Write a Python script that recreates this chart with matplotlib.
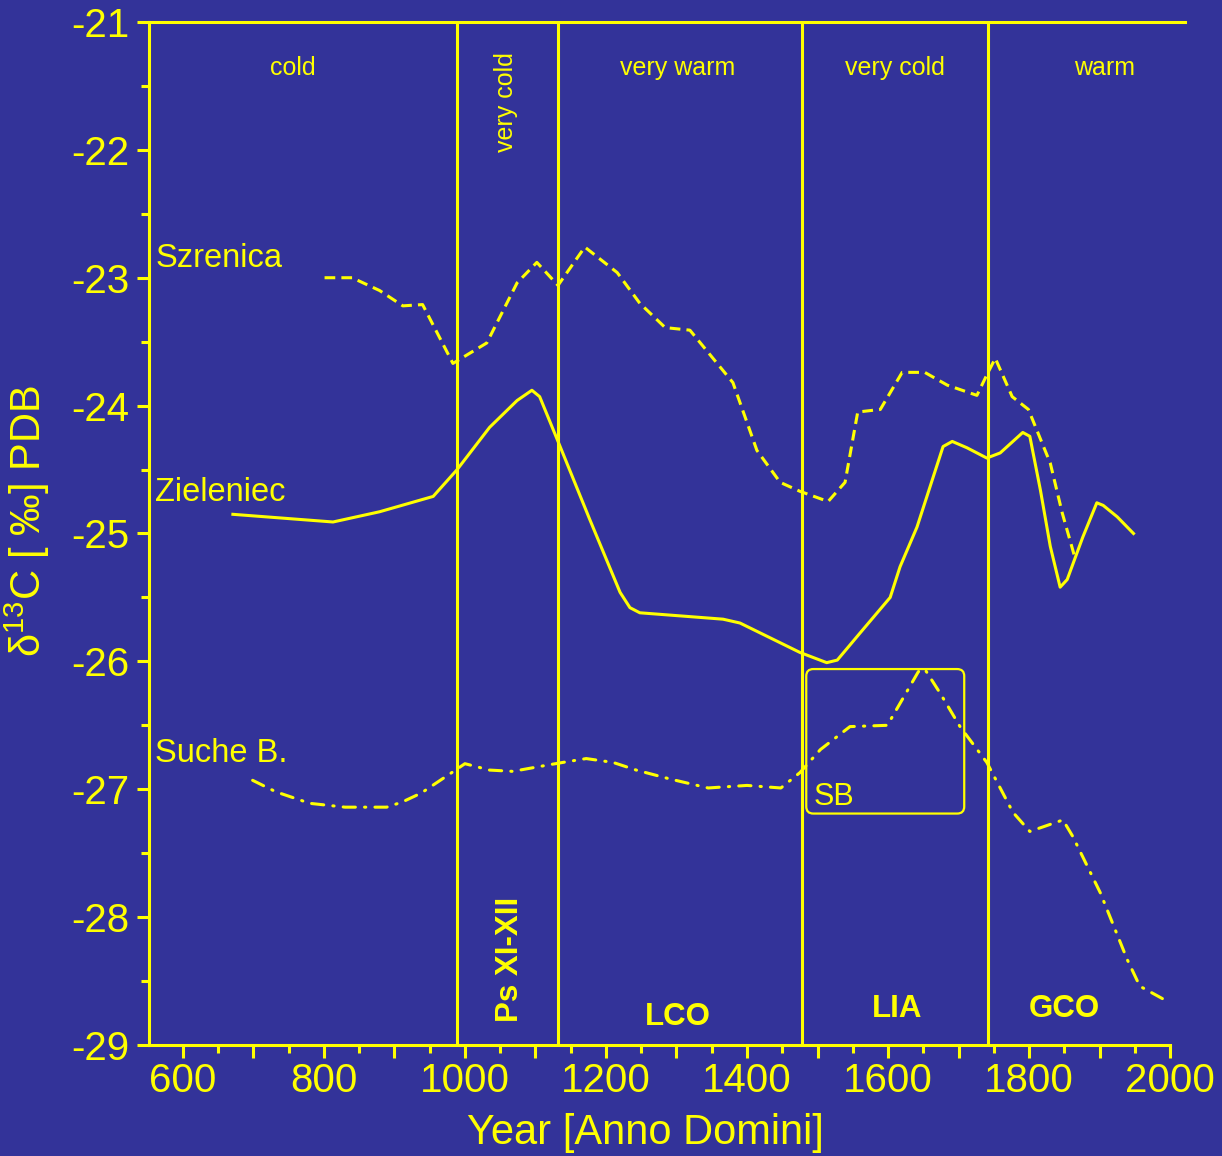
import matplotlib
matplotlib.use("Agg")
import matplotlib.pyplot as plt
from matplotlib.patches import FancyBboxPatch
from matplotlib.ticker import MultipleLocator, FuncFormatter

plt.rcParams['font.family'] = ['Liberation Sans', 'DejaVu Sans']
plt.rcParams['mathtext.fontset'] = 'custom'
plt.rcParams['mathtext.rm'] = 'Liberation Sans'

BG = "#333399"
YEL = "#ffff00"

# Zieleniec (solid)
zie_year = [671, 813, 879, 955, 989, 1035, 1074, 1095, 1106, 1135, 1177, 1220, 1234, 1248,
            1366, 1390, 1475, 1513, 1528, 1560, 1603, 1617, 1641, 1678, 1691, 1712, 1740,
            1759, 1791, 1801, 1816, 1830, 1844, 1854, 1876, 1896, 1905, 1925, 1948]
zie_val = [-24.85, -24.91, -24.83, -24.71, -24.50, -24.17, -23.96, -23.88, -23.93, -24.32,
           -24.89, -25.46, -25.58, -25.62, -25.67, -25.70, -25.93, -26.01, -25.99, -25.78,
           -25.50, -25.26, -24.95, -24.32, -24.28, -24.33, -24.41, -24.37, -24.21, -24.24,
           -24.66, -25.10, -25.42, -25.36, -25.03, -24.76, -24.78, -24.87, -25.00]

# Szrenica (dashed)
szr_year = [801, 840, 879, 912, 940, 983, 1031, 1074, 1102, 1132, 1170, 1216, 1248, 1284,
            1319, 1380, 1414, 1447, 1475, 1515, 1539, 1557, 1589, 1620, 1652, 1684, 1726,
            1740, 1752, 1776, 1799, 1830, 1847, 1865]
szr_val = [-23.00, -23.00, -23.10, -23.22, -23.21, -23.67, -23.51, -23.04, -22.88, -23.06,
           -22.76, -22.96, -23.20, -23.39, -23.41, -23.82, -24.35, -24.60, -24.67, -24.75,
           -24.60, -24.05, -24.03, -23.74, -23.74, -23.84, -23.92, -23.76, -23.63, -23.93,
           -24.03, -24.45, -24.84, -25.19]

# Suche B. (dash-dot)
suc_year = [699, 732, 780, 830, 889, 911, 938, 965, 984, 1000, 1035, 1068, 1118, 1139, 1172,
            1210, 1243, 1291, 1345, 1372, 1400, 1448, 1475, 1504, 1546, 1599, 1643, 1652,
            1674, 1702, 1740, 1777, 1801, 1848, 1862, 1901, 1939, 1957, 1990]
suc_val = [-26.93, -27.02, -27.11, -27.14, -27.14, -27.10, -27.03, -26.93, -26.86, -26.80,
           -26.85, -26.86, -26.81, -26.79, -26.76, -26.79, -26.85, -26.92, -26.99, -26.98,
           -26.97, -26.99, -26.87, -26.69, -26.51, -26.50, -26.08, -26.06, -26.25, -26.51,
           -26.79, -27.18, -27.33, -27.24, -27.37, -27.81, -28.33, -28.54, -28.64]

# period boundaries and labels
boundaries = [989, 1132, 1478, 1742]
climate_labels = ["cold", "very warm", "very cold", "warm"]
climate_x = [756, 1302, 1610, 1907]
period_labels = ["LCO", "LIA", "GCO"]
period_x = [1302, 1613, 1850]
period_y = [-28.78, -28.72, -28.72]

fig = plt.figure(figsize=(12.22, 11.56), dpi=100, facecolor=BG)
ax = fig.add_axes([0.1219, 0.0960, 0.8478, 0.8850], facecolor=BG)

lw = 2.2
ax.plot(zie_year, zie_val, color=YEL, lw=lw, solid_joinstyle='round')
ax.plot(szr_year, szr_val, color=YEL, lw=lw, dashes=(3.5, 2))
ax.plot(suc_year, suc_val, color=YEL, lw=lw, dashes=(4, 3, 0.4, 3),
        dash_capstyle='round')

for b in boundaries:
    ax.axvline(b, color=YEL, lw=lw)

# SB box
box = FancyBboxPatch((1484, -27.19), 1708 - 1484, 1.13,
                     boxstyle="round,pad=0,rounding_size=10",
                     mutation_aspect=0.0055, fc="none", ec=YEL, lw=1.6)
ax.add_patch(box)
ax.text(1494, -27.06, "SB", color=YEL, fontsize=22, va="center", ha="left")

# climate words along the top
for lab, x in zip(climate_labels, climate_x):
    ax.text(x, -21.36, lab, color=YEL, fontsize=18, ha="center", va="center")
ax.text(1058, -21.63, "very cold", color=YEL, fontsize=18, ha="center",
        va="center", rotation=90)

# bold periods at the bottom
for lab, x, y in zip(period_labels, period_x, period_y):
    ax.text(x, y, lab, color=YEL, fontsize=22.5, fontweight="bold",
            ha="center", va="center")
ax.text(1064, -28.33, "Ps XI-XII", color=YEL, fontsize=22.5, fontweight="bold",
        ha="center", va="center", rotation=90)

# series names
ax.text(561, -22.85, "Szrenica", color=YEL, fontsize=23.5, va="center")
ax.text(561, -24.68, "Zieleniec", color=YEL, fontsize=23.5, va="center")
ax.text(561, -26.72, "Suche B.", color=YEL, fontsize=23.5, va="center")

ax.set_xlim(552, 2021)
ax.set_ylim(-29, -21)

ax.xaxis.set_major_locator(MultipleLocator(100))
ax.xaxis.set_minor_locator(MultipleLocator(50))
ax.xaxis.set_major_formatter(FuncFormatter(lambda v, p: f"{int(v)}" if int(v) % 200 == 0 else ""))
ax.yaxis.set_major_locator(MultipleLocator(1))
ax.yaxis.set_minor_locator(MultipleLocator(0.5))
ax.yaxis.set_major_formatter(FuncFormatter(lambda v, p: f"{int(round(v))}"))

ax.tick_params(which="both", colors=YEL, width=lw, direction="out",
               labelsize=29, labelcolor=YEL)
ax.tick_params(which="major", length=9)
ax.tick_params(which="minor", length=5.5)
ax.tick_params(axis="y", pad=5)
ax.tick_params(axis="x", pad=3)

for s in ["left", "bottom", "top"]:
    ax.spines[s].set_color(YEL)
    ax.spines[s].set_linewidth(lw)
ax.spines["right"].set_visible(False)
ax.spines["bottom"].set_bounds(552, 2000)

ax.set_xlabel("Year [Anno Domini]", color=YEL, fontsize=30)
ax.xaxis.set_label_coords(0.479, -0.066)
ax.set_ylabel(r"$\mathregular{\delta^{13}}$C [ ‰] PDB", color=YEL, fontsize=30)
ax.yaxis.set_label_coords(-0.094, 0.512)

fig.savefig("out.png", dpi=100, facecolor=BG)
